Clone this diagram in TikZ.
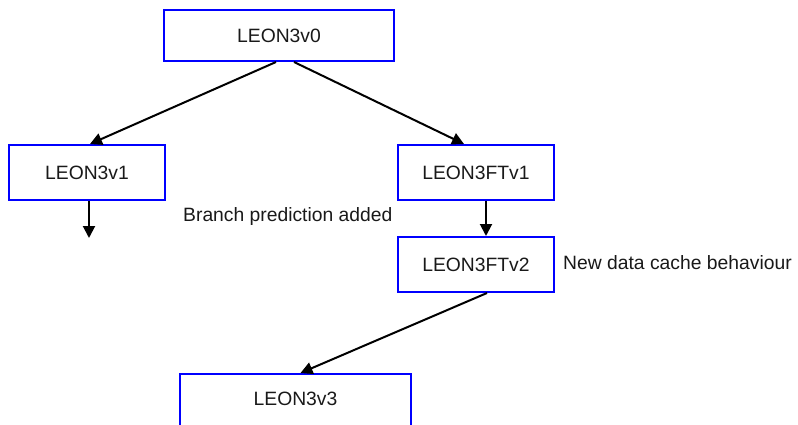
\documentclass[tikz,border=0pt]{standalone}
\usepackage{fontspec}
\setmainfont{Liberation Sans}
\usetikzlibrary{arrows.meta}
\definecolor{boxblue}{RGB}{0,0,255}
\tikzset{
  verbox/.style={draw=boxblue, line width=2pt, rectangle, inner sep=0pt,
    font=\fontsize{19.3}{22}\selectfont, text=black!90},
  conn/.style={line width=2pt, -{Triangle[length=12pt,width=12pt]}},
  note/.style={font=\fontsize{19.3}{22}\selectfont, inner sep=0pt, text=black!90}
}
\begin{document}
\begin{tikzpicture}[x=1pt,y=-1pt]
\useasboundingbox (0,0) rectangle (798,425);
\clip (0,0) rectangle (798,425);
\node[verbox, minimum width=230pt, minimum height=51pt] (v0) at (279,35.5) {LEON3v0};
\node[verbox, minimum width=156pt, minimum height=55pt] (v1) at (87,172.5) {LEON3v1};
\node[verbox, minimum width=156pt, minimum height=55pt] (ft1) at (476,172.5) {LEON3FTv1};
\node[verbox, minimum width=156pt, minimum height=55pt] (ft2) at (476,264.5) {LEON3FTv2};
\node[verbox, minimum width=231pt, text height=31pt, text depth=70pt, anchor=north] (v3) at (295.5,373) {LEON3v3};
\coordinate (v1end) at (89,238);
\node[note, anchor=base west] (lbl1) at (183,221) {Branch prediction added};
\node[note, anchor=base west] (lbl2) at (563,269) {New data cache behaviour};
\draw[conn] ([xshift=-3pt]v0.south) -- ([xshift=3pt]v1.north);
\draw[conn] ([xshift=15pt]v0.south) -- ([xshift=-12pt]ft1.north);
\draw[conn] ([xshift=2pt]v1.south) -- (v1end);
\draw[conn] ([xshift=10pt]ft1.south) -- ([xshift=10pt]ft2.north);
\draw[conn] ([xshift=11pt]ft2.south) -- ([xshift=5pt]v3.north);
\end{tikzpicture}
\end{document}
